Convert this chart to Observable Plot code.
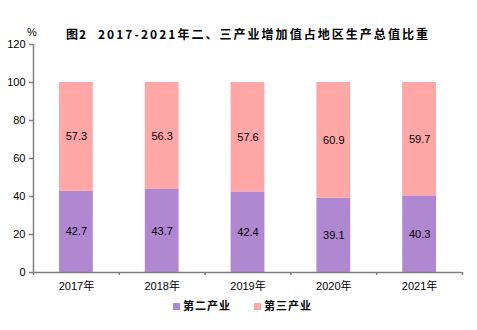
<!DOCTYPE html>
<html><head><meta charset="utf-8">
<script src="https://cdn.jsdelivr.net/npm/d3@7"></script>
<script src="https://cdn.jsdelivr.net/npm/@observablehq/plot@0.6"></script>
<style>
body{margin:0;background:#fff;}
#wrap{position:relative;width:477px;height:330px;font-family:"Liberation Sans","Noto Sans CJK SC",sans-serif;}
#title{position:absolute;left:66px;top:25px;white-space:nowrap;font:bold 12px "Noto Sans CJK SC",sans-serif;}
#t1{position:absolute;left:0;top:0;letter-spacing:1px;}
#t2{position:absolute;left:32px;top:0;}
#pct{position:absolute;left:27px;top:26px;font-size:11px;}
#legend{position:absolute;top:297px;left:173px;display:flex;gap:23px;font:bold 11px "Noto Sans CJK SC",sans-serif;letter-spacing:1px;white-space:nowrap;}
#legend span.sw{display:inline-block;width:7px;height:7px;margin-right:3px;vertical-align:middle;position:relative;top:-1px;}
svg{position:absolute;left:0;top:0;}
</style></head>
<body>
<div id="wrap">
<div id="pct">%</div>
<div id="title"><span id="t1">图2</span><span id="t2">2017-2021年二、三产业增加值占地区生产总值比重</span></div>
<div id="legend"></div>
</div>
<script>
const years = ["2017年","2018年","2019年","2020年","2021年"];
const secondary = [42.7, 43.7, 42.4, 39.1, 40.3];
const tertiary = [57.3, 56.3, 57.6, 60.9, 59.7];
const seriesNames = ["第二产业","第三产业"];
const colors = ["#b087d1","#ffa6a6"];
const yTicks = [0,20,40,60,80,100,120];

const rows = [];
years.forEach((y,i)=>{
  rows.push({i, year:y, s:seriesNames[0], y1:0, y2:secondary[i], v:secondary[i]});
  rows.push({i, year:y, s:seriesNames[1], y1:secondary[i], y2:secondary[i]+tertiary[i], v:tertiary[i]});
});
const bounds = d3.range(years.length+1);

const chart = Plot.plot({
  width:477, height:300,
  marginTop:44, marginBottom:28, marginLeft:33, marginRight:15,
  style:{fontFamily:"Liberation Sans, Noto Sans CJK SC, sans-serif", fontSize:"11px", color:"#000", background:"transparent"},
  x:{type:"linear", domain:[0, years.length]},
  y:{domain:[0,120]},
  color:{domain:seriesNames, range:colors},
  marks:[
    Plot.rectY(rows,{x1:d=>d.i, x2:d=>d.i+1, y1:"y1", y2:"y2", fill:"s", insetLeft:26, insetRight:26}),
    Plot.text(rows,{x:d=>d.i+0.5, y:d=>(d.y1+d.y2)/2, text:d=>d.v.toFixed(1), fill:"#000", fontSize:11}),
    Plot.axisY({ticks:yTicks, tickSize:4, tickPadding:4, stroke:"#7f7f7f", strokeWidth:1.5, fill:"#000", label:null, tickFormat:d=>String(d)}),
    Plot.axisX({ticks:bounds, tickSize:3, tickFormat:()=>"", stroke:"#7f7f7f", strokeWidth:1.5, label:null}),
    Plot.ruleX([0],{y1:0, y2:120, stroke:"#7f7f7f", strokeWidth:1.5}),
    Plot.ruleY([0],{x1:0, x2:years.length, stroke:"#7f7f7f", strokeWidth:1.5}),
    Plot.text(years,{x:(d,i)=>i+0.5, y:0, text:d=>d, dy:14, fill:"#000", fontSize:11})
  ]
});
document.getElementById("wrap").appendChild(chart);

// fit title second part to span from x=98 to x=430
const t2 = document.getElementById("t2");
const n = t2.textContent.length;
const w0 = t2.getBoundingClientRect().width;
t2.style.letterSpacing = ((332 - w0) / n) + "px";

const leg = document.getElementById("legend");
seriesNames.forEach((n,k)=>{
  const s=document.createElement("div");
  s.innerHTML=`<span class="sw" style="background:${colors[k]}"></span>${n}`;
  leg.appendChild(s);
});
</script>
</body></html>
